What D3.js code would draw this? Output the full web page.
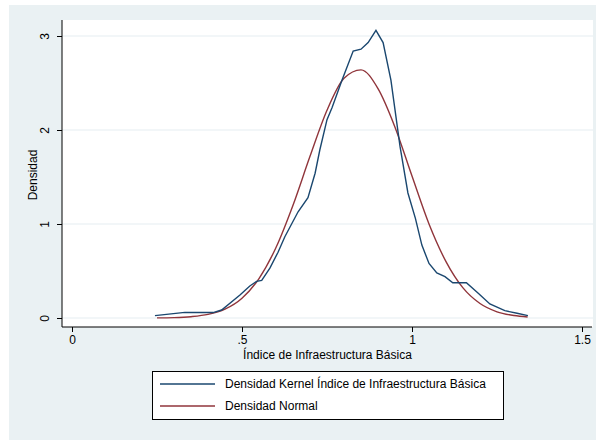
<!DOCTYPE html>
<html>
<head>
<meta charset="utf-8">
<script src="https://cdn.jsdelivr.net/npm/d3@7"></script>
<style>
  body { margin: 0; background: #fff; }
  text { font-family: "Liberation Sans", Arial, sans-serif; fill: #000; }
</style>
</head>
<body>
<svg id="chart" width="596" height="440"></svg>
<script>

// kernel density estimate
const kernelX = [0.244, 0.332, 0.415, 0.44, 0.494, 0.523, 0.543, 0.558, 0.582, 0.606, 0.626, 0.665, 0.694, 0.715, 0.729, 0.75, 0.765, 0.794, 0.827, 0.85, 0.871, 0.894, 0.915, 0.938, 0.965, 0.988, 1.01, 1.029, 1.05, 1.073, 1.097, 1.12, 1.16, 1.194, 1.229, 1.273, 1.309, 1.341]
const kernelY = [0.025, 0.06, 0.058, 0.085, 0.245, 0.34, 0.39, 0.4, 0.53, 0.70, 0.865, 1.13, 1.28, 1.54, 1.79, 2.11, 2.24, 2.53, 2.84, 2.86, 2.93, 3.06, 2.93, 2.53, 1.82, 1.33, 1.06, 0.776, 0.58, 0.48, 0.44, 0.375, 0.375, 0.266, 0.149, 0.078, 0.05, 0.025]

// normal density
const normalX = [0.25, 0.30, 0.35, 0.40, 0.45, 0.50, 0.55, 0.60, 0.65, 0.70, 0.75, 0.80, 0.85, 0.90, 0.95, 1.00, 1.05, 1.10, 1.15, 1.20, 1.25, 1.30, 1.34]
const normalY = [0.001, 0.004, 0.014, 0.038, 0.094, 0.21, 0.42, 0.75, 1.2, 1.72, 2.21, 2.55, 2.64, 2.44, 2.03, 1.51, 1.0, 0.6, 0.32, 0.154, 0.066, 0.026, 0.011]

const xTicks = [0, 0.5, 1, 1.5]
const yTicks = [0, 1, 2, 3]
const xTitle = 'Índice de Infraestructura Básica'
const yTitle = 'Densidad'
const legendLabels = ['Densidad Kernel Índice de Infraestructura Básica', 'Densidad Normal']
const colors = ['#1a476f', '#90353b']

const svg = d3.select('#chart')

const plot = { left: 62, right: 593, top: 20, bottom: 327 }
const fontSize = 12

const x = d3.scaleLinear().domain([0, 1.5]).range([72, 582])
const y = d3.scaleLinear().domain([0, 3]).range([318, 36])

const fmt = d => d === 0 ? '0' : String(d).replace(/^0\./, '.')

// graph region and plot region
svg.append('rect').attr('x', 9).attr('y', 5).attr('width', 587).attr('height', 435).attr('fill', '#eaf1f3')
svg.append('rect').attr('x', plot.left).attr('y', plot.top)
    .attr('width', plot.right - plot.left).attr('height', plot.bottom - plot.top).attr('fill', '#fff')

// grid
svg.append('g').selectAll('line').data(yTicks).enter().append('line')
    .attr('x1', plot.left).attr('x2', plot.right)
    .attr('y1', d => y(d)).attr('y2', d => y(d))
    .attr('stroke', '#e6eef1').attr('stroke-width', 1.2)

// series
const normalLine = d3.line().x(d => x(d[0])).y(d => y(d[1])).curve(d3.curveMonotoneX)
const kernelLine = d3.line().x(d => x(d[0])).y(d => y(d[1]))

svg.append('path')
    .datum(normalX.map((v, i) => [v, normalY[i]]))
    .attr('fill', 'none').attr('stroke', colors[1]).attr('stroke-width', 1.4)
    .attr('d', normalLine)

svg.append('path')
    .datum(kernelX.map((v, i) => [v, kernelY[i]]))
    .attr('fill', 'none').attr('stroke', colors[0]).attr('stroke-width', 1.4)
    .attr('d', kernelLine)

// y axis
const yg = svg.append('g').attr('transform', `translate(${plot.left},0)`)
    .call(d3.axisLeft(y).tickValues(yTicks).tickSize(5).tickFormat(fmt))
yg.select('.domain').attr('d', `M0,${plot.top}V${plot.bottom}`).attr('stroke', '#000')
yg.selectAll('.tick line').attr('stroke', '#000')
yg.selectAll('.tick text')
    .attr('x', null).attr('dy', null)
    .attr('transform', 'translate(-13,0) rotate(-90)')
    .attr('text-anchor', 'middle').attr('font-size', fontSize).attr('font-family', null)

// x axis
const xg = svg.append('g').attr('transform', `translate(0,${plot.bottom})`)
    .call(d3.axisBottom(x).tickValues(xTicks).tickSize(5).tickFormat(fmt))
xg.select('.domain').attr('d', `M${plot.left},0H${plot.right - 1}`).attr('stroke', '#000')
xg.selectAll('.tick line').attr('stroke', '#000')
xg.selectAll('.tick text').attr('y', 8).attr('font-size', fontSize).attr('font-family', null)

// titles
svg.append('text').attr('x', (plot.left + plot.right) / 2).attr('y', 359)
    .attr('text-anchor', 'middle').attr('font-size', fontSize).text(xTitle)
svg.append('text').attr('transform', 'translate(37,175) rotate(-90)')
    .attr('text-anchor', 'middle').attr('font-size', fontSize).text(yTitle)

// legend
const lg = svg.append('g')
lg.append('rect').attr('x', 152.5).attr('y', 371.5).attr('width', 351).attr('height', 48)
    .attr('fill', '#fff').attr('stroke', '#000').attr('stroke-width', 1)
legendLabels.forEach((label, i) => {
    const ly = 384 + i * 22
    lg.append('line').attr('x1', 160).attr('x2', 215).attr('y1', ly).attr('y2', ly)
        .attr('stroke', colors[i]).attr('stroke-width', 1.4)
    lg.append('text').attr('x', 225).attr('y', ly + 4).attr('font-size', fontSize).text(label)
})

</script>
</body>
</html>
